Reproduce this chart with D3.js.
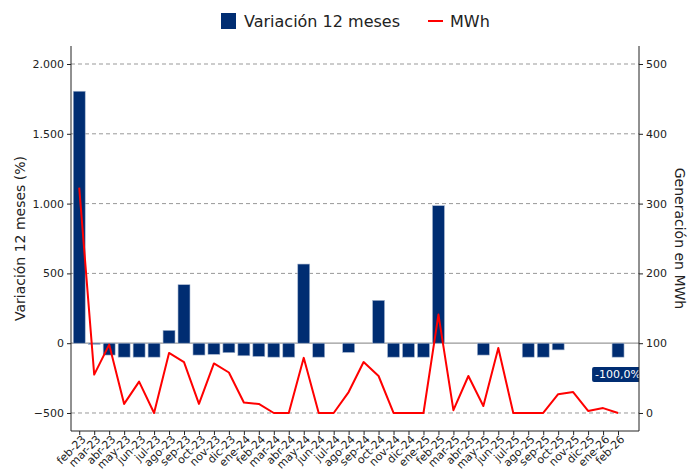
<!DOCTYPE html>
<html>
<head>
<meta charset="utf-8">
<script src="https://cdn.jsdelivr.net/npm/d3@7"></script>
<style>
  body { margin: 0; background: #fff; }
  svg { font-family: "DejaVu Sans", sans-serif; }
</style>
</head>
<body>
<svg width="687" height="474"></svg>
<script>
var months = ["feb-23","mar-23","abr-23","may-23","jun-23","jul-23","ago-23","sep-23","oct-23","nov-23","dic-23",
  "ene-24","feb-24","mar-24","abr-24","may-24","jun-24","jul-24","ago-24","sep-24","oct-24","nov-24","dic-24",
  "ene-25","feb-25","mar-25","abr-25","may-25","jun-25","jul-25","ago-25","sep-25","oct-25","nov-25","dic-25",
  "ene-26","feb-26"];

// variacion 12 meses (%) - null where there is no bar
var variacion = [1805, -8, -85, -100, -100, -100, 92, 419, -85, -80, -68,
  -90, -95, -100, -100, 567, -100, null, -66, null, 307, -100, -100,
  -100, 985, null, null, -85, null, null, -100, -100, -48, null, null,
  null, -100];

// generacion en MWh
var mwh = [323, 55, 98, 13, 45, 0, 86, 73, 13, 71, 58,
  15, 13, 0, 0, 79, 0, 0, 30, 73, 53, 0, 0,
  0, 141, 4, 53, 10, 93, 0, 0, 0, 27, 30, 3,
  7, 0];

var leftTicks = [-500, 0, 500, 1000, 1500, 2000];
var rightTicks = [0, 100, 200, 300, 400, 500];
var lastLabel = "-100,0%";

var svg = d3.select("svg"),
    width = +svg.attr("width"),
    height = +svg.attr("height");

// plot box (window.top is taken, so prefix these)
var pLeft = 71, pRight = 639, pTop = 46, pBottom = 431;
var navy = "#002d72";

var x = d3.scaleLinear().domain([-0.55, 37.4]).range([pLeft, pRight]);
var y = d3.scaleLinear().domain([-629, 2129]).range([pBottom, pTop]);
// right axis lines up so that 0% == 100 MWh and 2000% == 500 MWh
var y2 = d3.scaleLinear().domain([-629 / 5 + 100, 2129 / 5 + 100]).range([pBottom, pTop]);

svg.append("defs").append("clipPath").attr("id", "plot")
  .append("rect").attr("x", pLeft).attr("y", pTop).attr("width", pRight - pLeft).attr("height", pBottom - pTop);

// grid
svg.append("g")
  .selectAll("line")
  .data(leftTicks.filter(function(d) { return d != 0; }))
  .enter().append("line")
  .attr("x1", pLeft).attr("x2", pRight)
  .attr("y1", function(d) { return y(d); })
  .attr("y2", function(d) { return y(d); })
  .attr("stroke", "#999")
  .attr("stroke-width", 1)
  .attr("stroke-dasharray", "4,3");

svg.append("line")
  .attr("x1", pLeft).attr("x2", pRight)
  .attr("y1", y(0)).attr("y2", y(0))
  .attr("stroke", "#999")
  .attr("stroke-width", 1.2);

var bw = 0.8;
svg.append("g")
  .selectAll("rect")
  .data(variacion.map(function(v, i) { return {i: i, v: v}; }).filter(function(d) { return d.v !== null; }))
  .enter().append("rect")
  .attr("x", function(d) { return x(d.i - bw / 2); })
  .attr("width", x(bw) - x(0))
  .attr("y", function(d) { return y(Math.max(0, d.v)); })
  .attr("height", function(d) { return Math.abs(y(d.v) - y(0)); })
  .attr("fill", navy)
  .attr("stroke", "#a9b8d0")
  .attr("stroke-width", 0.6);

var line = d3.line()
  .x(function(d, i) { return x(i); })
  .y(function(d) { return y2(d); });

svg.append("path")
  .datum(mwh)
  .attr("d", line)
  .attr("fill", "none")
  .attr("stroke", "#ff0000")
  .attr("stroke-width", 2)
  .attr("stroke-linejoin", "round");

// label on last bar
var li = months.length - 1;
var lab = svg.append("g").attr("clip-path", "url(#plot)");
var ly = y(variacion[li]) + 17;
var lt = lab.append("text")
  .attr("x", x(li)).attr("y", ly)
  .attr("text-anchor", "middle")
  .attr("dy", "0.35em")
  .attr("fill", "#fff")
  .attr("font-size", 11)
  .text(lastLabel);
var bb = lt.node().getBBox();
lab.insert("rect", "text")
  .attr("x", bb.x - 3).attr("y", bb.y - 1)
  .attr("width", bb.width + 6).attr("height", bb.height + 2)
  .attr("rx", 2)
  .attr("fill", navy);

// axes
var yAxis = svg.append("g")
  .attr("transform", "translate(" + pLeft + ",0)")
  .call(d3.axisLeft(y).tickValues(leftTicks).tickSize(4).tickPadding(3)
    .tickFormat(function(d) { return d3.format(",")(d).replace(/,/g, "."); }));

var y2Axis = svg.append("g")
  .attr("transform", "translate(" + pRight + ",0)")
  .call(d3.axisRight(y2).tickValues(rightTicks).tickSize(4).tickPadding(3));

var xAxis = svg.append("g")
  .attr("transform", "translate(0," + pBottom + ")")
  .call(d3.axisBottom(x).tickValues(d3.range(months.length)).tickSize(4)
    .tickFormat(function(d) { return months[d]; }));

xAxis.selectAll("text")
  .attr("text-anchor", "end")
  .attr("dx", "0.3em")
  .attr("dy", "0.55em")
  .attr("transform", "rotate(-45,0,7)");

[yAxis, y2Axis, xAxis].forEach(function(a) {
  a.selectAll("text").attr("font-size", 11).attr("fill", "#222").attr("font-family", "DejaVu Sans");
  a.selectAll("line").attr("stroke", "#222");
  a.select(".domain").remove();
});

// spines (no top one)
svg.append("path")
  .attr("d", "M" + pLeft + "," + pTop + "V" + pBottom + "H" + pRight + "V" + pTop)
  .attr("fill", "none")
  .attr("stroke", "#222")
  .attr("stroke-width", 1);

// axis titles
svg.append("text")
  .attr("transform", "translate(25," + ((pTop + pBottom) / 2) + ") rotate(-90)")
  .attr("text-anchor", "middle")
  .attr("font-size", 14)
  .attr("fill", "#222")
  .text("Variación 12 meses (%)");

svg.append("text")
  .attr("transform", "translate(675," + ((pTop + pBottom) / 2) + ") rotate(90)")
  .attr("text-anchor", "middle")
  .attr("font-size", 14)
  .attr("fill", "#222")
  .text("Generación en MWh");

// legend
var leg = svg.append("g");
leg.append("rect").attr("x", 221).attr("y", 13).attr("width", 15).attr("height", 16).attr("fill", navy);
leg.append("text").attr("x", 244).attr("y", 27).attr("font-size", 16).attr("fill", "#222").text("Variación 12 meses");
leg.append("line").attr("x1", 428).attr("x2", 443).attr("y1", 21).attr("y2", 21)
  .attr("stroke", "#ff0000").attr("stroke-width", 2);
leg.append("text").attr("x", 450).attr("y", 27).attr("font-size", 16).attr("fill", "#222").text("MWh");
</script>
</body>
</html>
